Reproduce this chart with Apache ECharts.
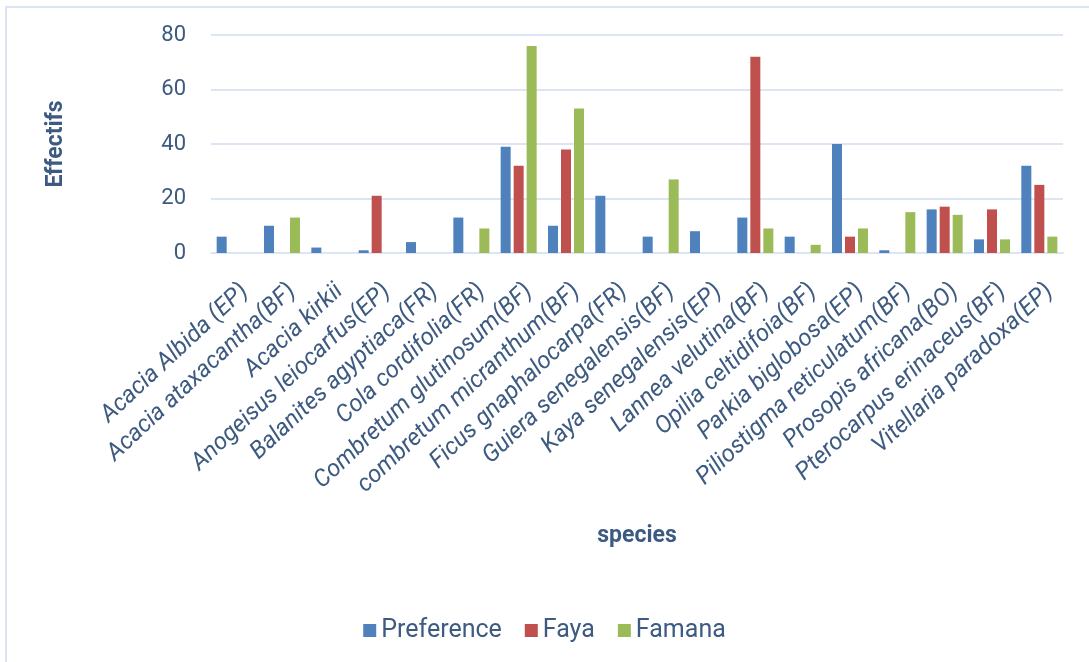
<!DOCTYPE html>
<html>
<head>
<meta charset="utf-8">
<script src="https://cdn.jsdelivr.net/npm/echarts@6/dist/echarts.min.js"></script>
<style>
  html, body { margin: 0; padding: 0; background: #ffffff; }
  #chart { width: 1089px; height: 662px; }
</style>
</head>
<body>
<div id="chart"></div>
<script>
// Species observed, with the survey source in brackets
const species = [
  'Acacia Albida (EP)', 'Acacia ataxacantha(BF)', 'Acacia kirkii', 'Anogeisus leiocarfus(EP)',
  'Balanites agyptiaca(FR)', 'Cola cordifolia(FR)', 'Combretum glutinosum(BF)',
  'combretum micranthum(BF)', 'Ficus gnaphalocarpa(FR)', 'Guiera senegalensis(BF)',
  'Kaya senegalensis(EP)', 'Lannea velutina(BF)', 'Opilia celtidifoia(BF)',
  'Parkia biglobosa(EP)', 'Piliostigma reticulatum(BF)', 'Prosopis africana(BO)',
  'Pterocarpus erinaceus(BF)', 'Vitellaria paradoxa(EP)'
];

// Counts per species
const preference = [6, 10, 2, 1, 4, 13, 39, 10, 21, 6, 8, 13, 6, 40, 1, 16, 5, 32];
const faya       = [0, 0, 0, 21, 0, 0, 32, 38, 0, 0, 0, 72, 0, 6, 0, 17, 16, 25];
const famana     = [0, 13, 0, 0, 0, 9, 76, 53, 0, 27, 0, 9, 3, 9, 15, 14, 5, 6];

const seriesNames = ['Preference', 'Faya', 'Famana'];
const yTicks = { min: 0, max: 80, step: 20 };

const textColor = '#3d5a80';
const gridColor = '#dce5f4';
const palette = ['#4f81bd', '#c0504d', '#9bbb59'];

const chart = echarts.init(document.getElementById('chart'), null, { renderer: 'canvas' });

function barSeries(name, data, i) {
  return {
    name: name,
    type: 'bar',
    data: data,
    barWidth: 10,
    barGap: '30%',
    itemStyle: { color: palette[i] }
  };
}

chart.setOption({
  animation: false,
  backgroundColor: '#ffffff',
  textStyle: { fontFamily: 'Roboto' },
  color: palette,
  graphic: [{
    type: 'rect',
    shape: { x: 6, y: 7, width: 1200, height: 800 },
    style: { fill: 'none', stroke: gridColor, lineWidth: 2 },
    silent: true
  }],
  grid: { left: 211, right: 26, top: 35, bottom: 409, containLabel: false },
  legend: {
    bottom: 14,
    left: 'center',
    itemWidth: 13,
    itemHeight: 13,
    itemGap: 23,
    icon: 'rect',
    textStyle: { color: textColor, fontSize: 25, fontFamily: 'Roboto' },
    data: seriesNames
  },
  xAxis: {
    type: 'category',
    data: species,
    name: 'species',
    nameLocation: 'middle',
    nameGap: 272,
    nameTextStyle: { color: textColor, fontSize: 23, fontWeight: 'bold', fontFamily: 'Roboto' },
    axisLine: { show: true, lineStyle: { color: gridColor, width: 2 } },
    axisTick: { show: false },
    axisLabel: {
      interval: 0,
      rotate: 43,
      margin: 24,
      align: 'right',
      verticalAlign: 'top',
      lineHeight: 30,
      color: textColor,
      fontSize: 24,
      fontStyle: 'italic',
      fontFamily: 'Roboto'
    }
  },
  yAxis: {
    type: 'value',
    min: yTicks.min,
    max: yTicks.max,
    interval: yTicks.step,
    name: 'Effectifs',
    nameLocation: 'middle',
    nameGap: 143,
    nameTextStyle: { color: textColor, fontSize: 23, fontWeight: 'bold', fontFamily: 'Roboto' },
    axisLine: { show: false },
    axisTick: { show: false },
    axisLabel: { color: textColor, fontSize: 22, margin: 25, fontFamily: 'Roboto' },
    splitLine: { lineStyle: { color: gridColor, width: 2 } }
  },
  series: [
    barSeries(seriesNames[0], preference, 0),
    barSeries(seriesNames[1], faya, 1),
    barSeries(seriesNames[2], famana, 2)
  ]
});
</script>
</body>
</html>
